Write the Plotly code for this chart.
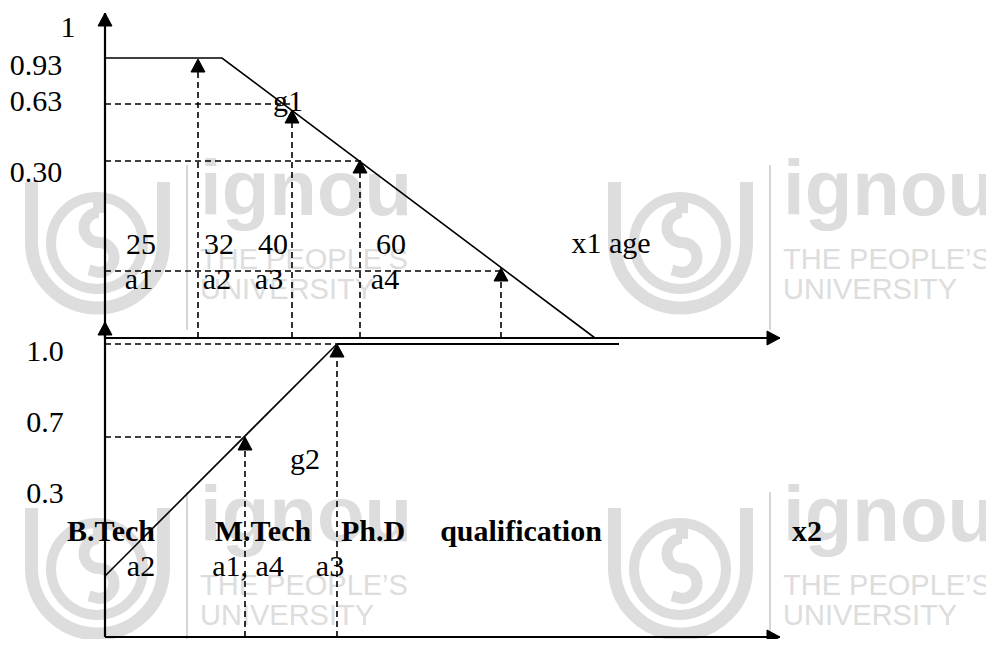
import plotly.graph_objects as go

W, H = 994, 647
PAGE_MARGIN = 8  # default body margin of the written page
SERIF = "Liberation Serif"
SANS = "Liberation Sans"
INK = "black"
WATER = "#dddddd"

# drawing units = pixels of the original sheet, origin top left, y downwards

# ---- upper panel: g1, membership of age (x1) ----
AGE_AXIS_Y = 338
AGE_CURVE_X = [105, 222, 595]
AGE_CURVE_Y = [58, 58, 338]
AGE_GUIDE_X = [198, 292, 360, 501]
AGE_GUIDE_HIT = [59, 110, 160, 268]
AGE_LEVEL_Y = [104, 161, 271]
AGE_LEVEL_END = [290, 360, 501]

AGE_GRADES = ["1", "0.93", "0.63", "0.30"]
AGE_GRADE_X = [68, 36, 36, 36]
AGE_GRADE_Y = [29, 67, 103, 174]
AGE_VALUES = ["25", "32", "40", "60"]
AGE_VALUE_X = [141, 219, 273, 391]
AGE_NAMES = ["a1", "a2", "a3", "a4"]
AGE_NAME_X = [139, 217, 269, 385]

# ---- lower panel: g2, membership of qualification (x2) ----
QUAL_AXIS_Y = 637
QUAL_CURVE_X = [105, 337, 619]
QUAL_CURVE_Y = [576, 344, 344]
QUAL_GUIDE_X = [245, 337]
QUAL_GUIDE_HIT = [437, 344]
QUAL_LEVEL_Y = [344, 437]
QUAL_LEVEL_END = [337, 245]

QUAL_GRADES = ["1.0", "0.7", "0.3"]
QUAL_GRADE_Y = [353, 424, 495]
QUAL_LEVELS = ["B.Tech", "M.Tech", "Ph.D", "qualification", "x2"]
QUAL_LEVEL_X = [111, 263, 373, 521, 807]
QUAL_NAMES = ["a2", "a1, a4", "a3"]
QUAL_NAME_X = [141, 248, 330]

# axes: start point and arrow tip
AXES = [
    (105, 338, 105, 13, "up"),
    (105, QUAL_AXIS_Y, 105, 322, "up"),
    (105, 338, 780, 338, "right"),
    (105, QUAL_AXIS_Y, 780, QUAL_AXIS_Y, "right"),
]

# watermark blocks (logo top left, text left edge)
MARKS = [(25, 182, 200), (608, 182, 783), (25, 508, 200), (608, 508, 783)]
MARK_BARS = [(187, 0, 5), (187, 165, 330), (187, 492, 647),
             (770, 0, 4), (770, 165, 330), (770, 492, 647)]


def arrow_head(x, y, direction, length=13, width=14):
    if direction == "up":
        xs = [x, x - width / 2, x + width / 2, x]
        ys = [y, y + length, y + length, y]
    else:
        xs = [x, x - length, x - length, x]
        ys = [y, y - width / 2, y + width / 2, y]
    return go.Scatter(x=xs, y=ys, mode="lines", fill="toself", fillcolor=INK,
                      line=dict(color=INK, width=1), hoverinfo="skip")


def text_trace(xs, ys, labels, size=30, bold=False, family=SERIF, color=INK, pos="middle center"):
    return go.Scatter(x=xs, y=ys, text=labels, mode="text", textposition=pos,
                      textfont=dict(family=family, size=size, color=color,
                                    weight="bold" if bold else "normal"),
                      hoverinfo="skip")


def logo_shapes(ox, oy):
    """IGNOU logo drawn as outline paths, light grey"""
    u = (f"M {ox+6.5},{oy} L {ox+6.5},{oy+60} C {ox+6.5},{oy+96.5} {ox+36},{oy+126} {ox+72.5},{oy+126} "
         f"C {ox+109},{oy+126} {ox+138.5},{oy+96.5} {ox+138.5},{oy+60} L {ox+138.5},{oy}")
    s = (f"M {ox+74},{oy+30.5} C {ox+65.7},{oy+30.5} {ox+59},{oy+37.2} {ox+59},{oy+45.5} "
         f"C {ox+59},{oy+53.8} {ox+65.7},{oy+60.5} {ox+74},{oy+60.5} "
         f"C {ox+82.3},{oy+60.5} {ox+89},{oy+67.2} {ox+89},{oy+75.5} "
         f"C {ox+89},{oy+83.8} {ox+82.3},{oy+90.5} {ox+74},{oy+90.5} L {ox+64},{oy+88}")
    stem = f"M {ox+74},{oy+14} L {ox+74},{oy+31}"
    common = dict(xref="x", yref="y", layer="below")
    return [
        dict(type="path", path=u, line=dict(color=WATER, width=13), **common),
        dict(type="circle", x0=ox + 26, x1=ox + 118, y0=oy + 15, y1=oy + 107,
             line=dict(color=WATER, width=10), **common),
        dict(type="path", path=s, line=dict(color=WATER, width=11), **common),
        dict(type="path", path=stem, line=dict(color=WATER, width=12), **common),
    ]


fig = go.Figure()
shapes = []

# watermark first so the drawing sits on top of it
for lx, ly, tx in MARKS:
    shapes += logo_shapes(lx, ly)
    fig.add_trace(text_trace([tx], [ly + 13], ["ignou"], size=78, bold=True, family=SANS,
                             color=WATER, pos="middle right"))
    fig.add_trace(text_trace([tx, tx], [ly + 80, ly + 110], ["THE PEOPLE\u2019S", "UNIVERSITY"],
                             size=29, family=SANS, color=WATER, pos="middle right"))
for bx, y0, y1 in MARK_BARS:
    shapes.append(dict(type="line", xref="x", yref="y", layer="below", x0=bx, x1=bx, y0=y0, y1=y1,
                       line=dict(color="#d6d6d6", width=2)))

# dashed guide lines
dash_x, dash_y = [], []
for gx, hit in zip(AGE_GUIDE_X, AGE_GUIDE_HIT):
    dash_x += [gx, gx, None]
    dash_y += [AGE_AXIS_Y, hit + 12, None]
for ly, lend in zip(AGE_LEVEL_Y, AGE_LEVEL_END):
    dash_x += [105, lend, None]
    dash_y += [ly, ly, None]
for gx, hit in zip(QUAL_GUIDE_X, QUAL_GUIDE_HIT):
    dash_x += [gx, gx, None]
    dash_y += [QUAL_AXIS_Y, hit + 12, None]
for ly, lend in zip(QUAL_LEVEL_Y, QUAL_LEVEL_END):
    dash_x += [105, lend, None]
    dash_y += [ly, ly, None]
fig.add_trace(go.Scatter(x=dash_x, y=dash_y, mode="lines",
                         line=dict(color=INK, width=1.6, dash="6px,4px"), hoverinfo="skip"))

# membership curves
fig.add_trace(go.Scatter(x=AGE_CURVE_X, y=AGE_CURVE_Y, mode="lines",
                         line=dict(color=INK, width=1.6), hoverinfo="skip"))
fig.add_trace(go.Scatter(x=QUAL_CURVE_X[1:], y=QUAL_CURVE_Y[1:], mode="lines",
                         line=dict(color=INK, width=2.2), hoverinfo="skip"))
fig.add_trace(go.Scatter(x=QUAL_CURVE_X[:2], y=QUAL_CURVE_Y[:2], mode="lines",
                         line=dict(color=INK, width=1.6), hoverinfo="skip"))

# axes with arrow heads
for x0, y0, x1, y1, d in AXES:
    fig.add_trace(go.Scatter(x=[x0, x1], y=[y0, y1], mode="lines",
                             line=dict(color=INK, width=2.2), hoverinfo="skip"))
    fig.add_trace(arrow_head(x1, y1, d))
for gx, hit in zip(AGE_GUIDE_X, AGE_GUIDE_HIT):
    fig.add_trace(arrow_head(gx, hit, "up"))
for gx, hit in zip(QUAL_GUIDE_X, QUAL_GUIDE_HIT):
    fig.add_trace(arrow_head(gx, hit, "up"))

# labels
fig.add_trace(text_trace(AGE_GRADE_X, AGE_GRADE_Y, AGE_GRADES))
fig.add_trace(text_trace(AGE_VALUE_X, [246] * 4, AGE_VALUES))
fig.add_trace(text_trace(AGE_NAME_X, [281] * 4, AGE_NAMES))
fig.add_trace(text_trace([288, 611], [103, 245], ["g1", "x1 age"]))
fig.add_trace(text_trace([45] * 3, QUAL_GRADE_Y, QUAL_GRADES))
fig.add_trace(text_trace(QUAL_LEVEL_X, [533] * 5, QUAL_LEVELS, bold=True))
fig.add_trace(text_trace(QUAL_NAME_X, [568] * 3, QUAL_NAMES))
fig.add_trace(text_trace([305], [461], ["g2"]))

# the page keeps an 8px body margin, so the drawing window is shifted to match the sheet
fw, fh = W - 2 * PAGE_MARGIN, H - 2 * PAGE_MARGIN
fig.update_layout(
    width=fw, height=fh,
    margin=dict(l=0, r=0, t=0, b=0),
    paper_bgcolor="white", plot_bgcolor="white",
    showlegend=False, hovermode=False,
    shapes=shapes,
    xaxis=dict(range=[PAGE_MARGIN, PAGE_MARGIN + fw], visible=False, fixedrange=True),
    yaxis=dict(range=[PAGE_MARGIN + fh, PAGE_MARGIN], visible=False, fixedrange=True),
)

fig.write_html("out.html")
